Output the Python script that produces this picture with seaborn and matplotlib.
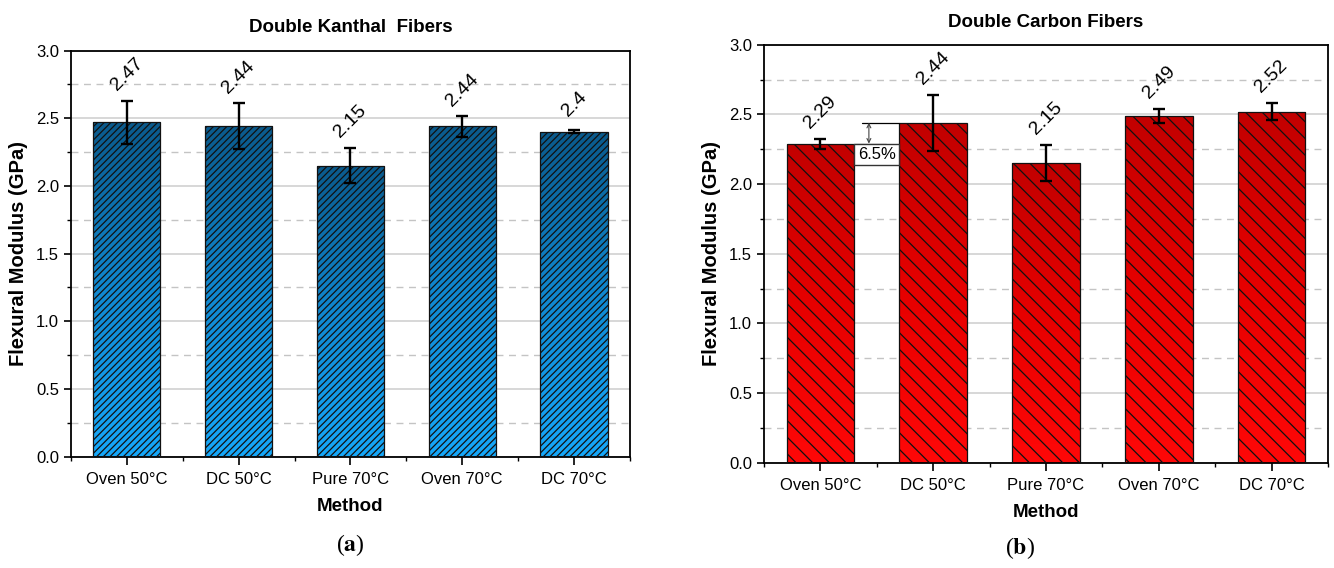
import numpy as np
import pandas as pd
import matplotlib
matplotlib.use("Agg")
import matplotlib.pyplot as plt
import seaborn as sns
from matplotlib.colors import LinearSegmentedColormap
from matplotlib.ticker import MultipleLocator, FixedLocator, FormatStrFormatter
from matplotlib.patches import Rectangle

# ---------------- data ----------------
methods = ["Oven 50°C", "DC 50°C", "Pure 70°C", "Oven 70°C", "DC 70°C"]
kanthal_mean = [2.47, 2.44, 2.15, 2.44, 2.40]
kanthal_err = [0.16, 0.17, 0.13, 0.075, 0.01]
kanthal_labels = ["2.47", "2.44", "2.15", "2.44", "2.4"]
carbon_mean = [2.29, 2.44, 2.15, 2.49, 2.52]
carbon_err = [0.035, 0.20, 0.13, 0.05, 0.06]
carbon_labels = ["2.29", "2.44", "2.15", "2.49", "2.52"]
titles = ["Double Kanthal  Fibers", "Double Carbon Fibers"]
panel_tags = ["a", "b"]
diff_label = "6.5%"

sns.set_style("white")
plt.rcParams["font.family"] = ["Liberation Sans", "DejaVu Sans"]
plt.rcParams["mathtext.fontset"] = "stix"
plt.rcParams["hatch.linewidth"] = 0.9
for k in ["text.color", "axes.labelcolor", "xtick.color", "ytick.color"]:
    plt.rcParams[k] = "black"

fig = plt.figure(figsize=(13.34, 5.68), dpi=100)
ax1 = fig.add_axes([0.0532, 0.196, 0.419, 0.715])
ax2 = fig.add_axes([0.5727, 0.1854, 0.4228, 0.7359])

blue_cmap = LinearSegmentedColormap.from_list("b", ["#16a8fa", "#1088d0", "#0a5a8c"])
red_cmap = LinearSegmentedColormap.from_list("r", ["#ff0808", "#e60000", "#c20000"])


def draw_panel(ax, means, errs, labels, cmap, hatch, title, ylim):
    df = pd.DataFrame({"Method": methods, "Modulus": means})
    sns.barplot(data=df, x="Method", y="Modulus", ax=ax, width=0.6,
                color="white", errorbar=None, zorder=2)
    grad = np.linspace(0, 1, 256).reshape(-1, 1)
    xs = []
    for p in ax.patches:
        x0, w, h = p.get_x(), p.get_width(), p.get_height()
        xs.append(x0 + w / 2)
        im = ax.imshow(grad, extent=[x0, x0 + w, 0, h], origin="lower",
                       cmap=cmap, aspect="auto", zorder=2, interpolation="bilinear")
        im.set_clip_path(p)
        p.set_facecolor("none")
        p.set_edgecolor("#111111")
        p.set_linewidth(0.9)
        p.set_hatch(hatch)
        p.set_zorder(3)
    ax.errorbar(xs, means, yerr=errs, fmt="none", ecolor="black",
                elinewidth=1.7, capsize=4, capthick=1.7, zorder=5)
    for x, m, e, lab in zip(xs, means, errs, labels):
        ax.annotate(lab, xy=(x, m + e), xytext=(0, 19), textcoords="offset points",
                    ha="center", va="center", rotation=45, fontsize=14, zorder=6)
    ax.set_xlim(-0.5, 4.5)
    ax.set_ylim(*ylim)
    ax.yaxis.set_major_locator(MultipleLocator(0.5))
    ax.yaxis.set_minor_locator(MultipleLocator(0.25))
    ax.yaxis.set_major_formatter(FormatStrFormatter("%.1f"))
    ax.xaxis.set_minor_locator(FixedLocator(np.arange(-0.5, 5.0, 1.0)))
    ax.set_axisbelow(True)
    ax.grid(axis="y", which="major", color="#d4d4d4", lw=1.3, ls="-", zorder=0)
    ax.grid(axis="y", which="minor", color="#c4c4c4", lw=1.0, ls=(0, (5, 4)), zorder=0)
    ax.grid(axis="x", which="both", visible=False)
    ax.tick_params(axis="both", which="major", direction="out", length=5, width=1.2,
                   labelsize=12, colors="black", bottom=True, left=True, top=False, right=False)
    ax.tick_params(axis="both", which="minor", direction="out", length=3, width=1.0,
                   bottom=True, left=True, top=False, right=False)
    ax.tick_params(axis="x", which="major", length=6, pad=5)
    for s in ax.spines.values():
        s.set_visible(True)
        s.set_color("black")
        s.set_linewidth(1.3)
    ax.set_xlabel("Method", fontsize=13.5, fontweight="bold", labelpad=8)
    ax.set_ylabel("Flexural Modulus (GPa)", fontsize=14.5, fontweight="bold", labelpad=6)
    ax.set_title(title, fontsize=13.5, fontweight="bold", pad=13)
    return xs


draw_panel(ax1, kanthal_mean, kanthal_err, kanthal_labels, blue_cmap, "/////", titles[0], (0, 3.0))
xs2 = draw_panel(ax2, carbon_mean, carbon_err, carbon_labels, red_cmap, "\\\\", titles[1], (0, 3.0))

# difference annotation between first two carbon bars
gap_l = xs2[0] + 0.3
gap_r = xs2[1] - 0.3
ax2.plot([gap_l, gap_l + 0.28], [carbon_mean[0], carbon_mean[0]], color="#8a8a8a", lw=1.0, zorder=6)
ax2.plot([gap_l + 0.07, gap_r], [carbon_mean[1], carbon_mean[1]], color="black", lw=0.9, zorder=6)
ax2.annotate("", xy=(gap_l + 0.13, carbon_mean[0]), xytext=(gap_l + 0.13, carbon_mean[1]),
             arrowprops=dict(arrowstyle="<->", color="#444444", lw=0.8,
                             shrinkA=0, shrinkB=0, mutation_scale=7), zorder=6)
ax2.add_patch(Rectangle((gap_l, carbon_mean[0] - 0.15), gap_r - gap_l, 0.15,
                        facecolor="white", edgecolor="#333333", lw=1.0, zorder=6))
ax2.text((gap_l + gap_r) / 2, carbon_mean[0] - 0.075, diff_label, ha="center", va="center",
         fontsize=12, zorder=7)

fig.text(350 / 1334, 1 - 545 / 568, r"($\mathbf{%s}$)" % panel_tags[0], ha="center", va="center",
         fontsize=17, family="Liberation Serif")
fig.text(1020 / 1334, 1 - 548 / 568, r"($\mathbf{%s}$)" % panel_tags[1], ha="center", va="center",
         fontsize=17, family="Liberation Serif")

fig.savefig("out.png", dpi=100)
